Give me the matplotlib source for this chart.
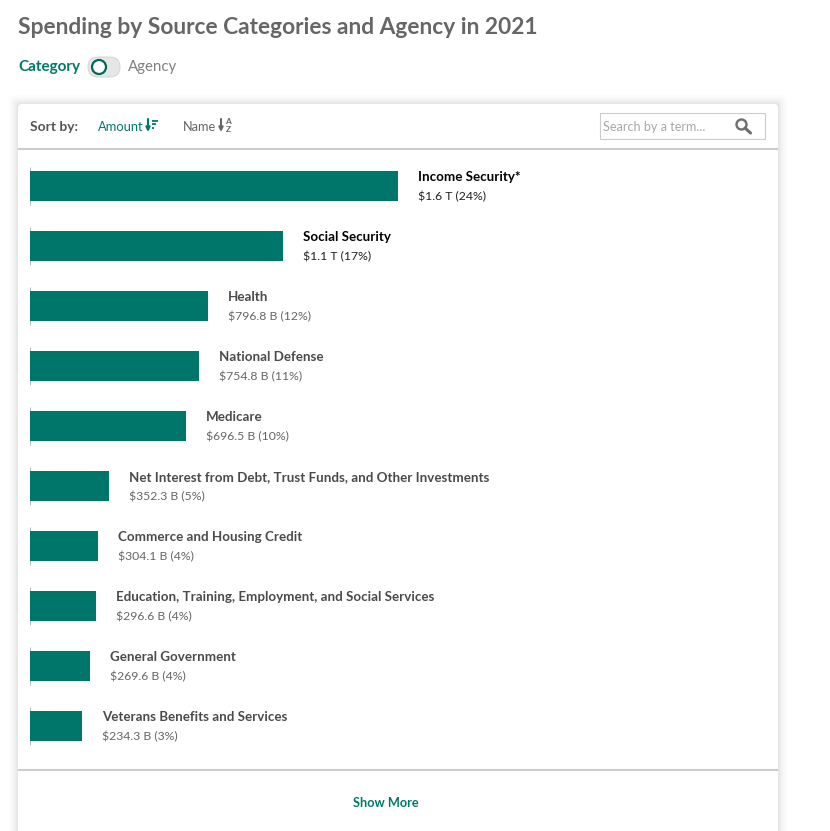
import matplotlib
matplotlib.use("Agg")
import matplotlib.pyplot as plt
from matplotlib.patches import FancyBboxPatch, Rectangle, Circle

# Spending values, billions of dollars
categories = ["Income Security*", "Social Security", "Health", "National Defense", "Medicare",
              "Net Interest from Debt, Trust Funds, and Other Investments",
              "Commerce and Housing Credit",
              "Education, Training, Employment, and Social Services",
              "General Government", "Veterans Benefits and Services"]
amounts = [1647, 1133, 796.8, 754.8, 696.5, 352.3, 304.1, 296.6, 269.6, 234.3]
value_labels = ["$1.6 T (24%)", "$1.1 T (17%)", "$796.8 B (12%)", "$754.8 B (11%)", "$696.5 B (10%)",
                "$352.3 B (5%)", "$304.1 B (4%)", "$296.6 B (4%)", "$269.6 B (4%)", "$234.3 B (3%)"]

TEAL = "#00796b"
GREY = "#555555"
W, H = 830, 831

plt.rcParams['font.family'] = ['Lato', 'DejaVu Sans']
fig = plt.figure(figsize=(W / 100, H / 100), dpi=100)

# page layer, works in pixels with y going down
bg = fig.add_axes([0, 0, 1, 1])
bg.set_xlim(0, W)
bg.set_ylim(H, 0)
bg.axis("off")


def px(x):
    return x * 0.72  # pixels to points at dpi 100


# card with soft shadow
for grow, a in [(9, 0.012), (7, 0.015), (5, 0.02), (3, 0.025), (1.5, 0.03)]:
    bg.add_patch(FancyBboxPatch((18 - grow, 104 - grow), 760 + 2 * grow, 800,
                                boxstyle="round,pad=0,rounding_size=5", fc="black", ec="none", alpha=a))
bg.add_patch(FancyBboxPatch((18, 104), 760, 800, boxstyle="round,pad=0,rounding_size=4", fc="white", ec="none"))
bg.plot([18, 778], [148.5, 148.5], color="#cccccc", lw=1.5, solid_capstyle="butt")
bg.plot([18, 778], [770, 770], color="#cccccc", lw=1.5, solid_capstyle="butt")

bg.text(18, 27, "Spending by Source Categories and Agency in 2021", fontsize=px(22.7), fontweight="bold",
        color="#666666", va="center")

# toggle
bg.text(18, 67.5, "Category", fontsize=px(15.3), fontweight="bold", color=TEAL, va="center")
bg.add_patch(FancyBboxPatch((88, 57), 32, 20, boxstyle="round,pad=0,rounding_size=10", fc="#e6e6e6", ec="#d5d5d5", lw=0.7))
bg.add_patch(Circle((99, 67), 7, fc="white", ec="#00695c", lw=1.6))
bg.text(128, 66.5, "Agency", fontsize=px(15), color="#808080", va="center")

# sort bar
bg.text(30, 127, "Sort by:", fontsize=px(13.7), fontweight="bold", color=GREY, va="center")
bg.text(98, 127, "Amount", fontsize=px(12.9), color=TEAL, va="center")
bg.text(183, 127, "Name", fontsize=px(12.8), color="#666666", va="center")

# sort icons
bg.annotate("", xy=(148, 132), xytext=(148, 119), arrowprops=dict(arrowstyle="-|>", color=TEAL, lw=1.5, mutation_scale=6, shrinkA=0, shrinkB=0))
for y0, x1 in [(120.5, 158), (124, 156), (127.5, 154), (131, 152)]:
    bg.plot([152, x1], [y0, y0], color=TEAL, lw=1.3, solid_capstyle="butt")
bg.annotate("", xy=(221, 132), xytext=(221, 119), arrowprops=dict(arrowstyle="-|>", color="#666666", lw=1.5, mutation_scale=6, shrinkA=0, shrinkB=0))
bg.text(228, 122, "A", fontsize=6, fontweight="bold", color="#666666", ha="center", va="center")
bg.text(228, 129.5, "Z", fontsize=6, fontweight="bold", color="#666666", ha="center", va="center")

# search box
bg.add_patch(Rectangle((599.5, 112.5), 165.5, 26.5, fc="white", ec="#cccccc", lw=0.8))
bg.text(603, 127, "Search by a term...", fontsize=px(12.6), color="#a8a8a8", va="center")
bg.add_patch(Circle((741.5, 124.5), 5, fc="none", ec="#6e6e6e", lw=1.7))
bg.plot([745, 750.5], [128, 133], color="#6e6e6e", lw=2.2, solid_capstyle="round")

bg.text(385.5, 803, "Show More", fontsize=px(12.7), fontweight="bold", color=TEAL, ha="center", va="center")

# bar chart, top row centred at 186 and a 60 px step
bar_left, bar_w = 30, 368
top, bottom = 156, 756
ax = fig.add_axes([bar_left / W, 1 - bottom / H, bar_w / W, (bottom - top) / H])
ax.patch.set_alpha(0)
ax.set_xlim(0, amounts[0])
ax.set_ylim(len(amounts) - 0.5, -0.5)
ax.axis("off")
rows = list(range(len(amounts)))
ax.barh(rows, amounts, height=0.5, color="#00766a", zorder=2)
ax.vlines([0] * len(rows), [r - 0.32 for r in rows], [r + 0.32 for r in rows], color="#bbbbbb", lw=0.7,
          clip_on=False, zorder=1)

for i, (name, val, lab) in enumerate(zip(categories, amounts, value_labels)):
    name_color = "black" if i < 2 else "#4a4a4a"
    val_color = "#222222" if i < 2 else "#666666"
    ax.annotate(name, xy=(val, i), xytext=(px(20), px(9)), textcoords="offset points", fontsize=px(13.4),
                fontweight="bold", color=name_color, va="center", annotation_clip=False)
    ax.annotate(lab, xy=(val, i), xytext=(px(20), px(-10.5)), textcoords="offset points", fontsize=px(12.3),
                color=val_color, va="center", annotation_clip=False)

fig.savefig("out.png", dpi=100, facecolor="white")
